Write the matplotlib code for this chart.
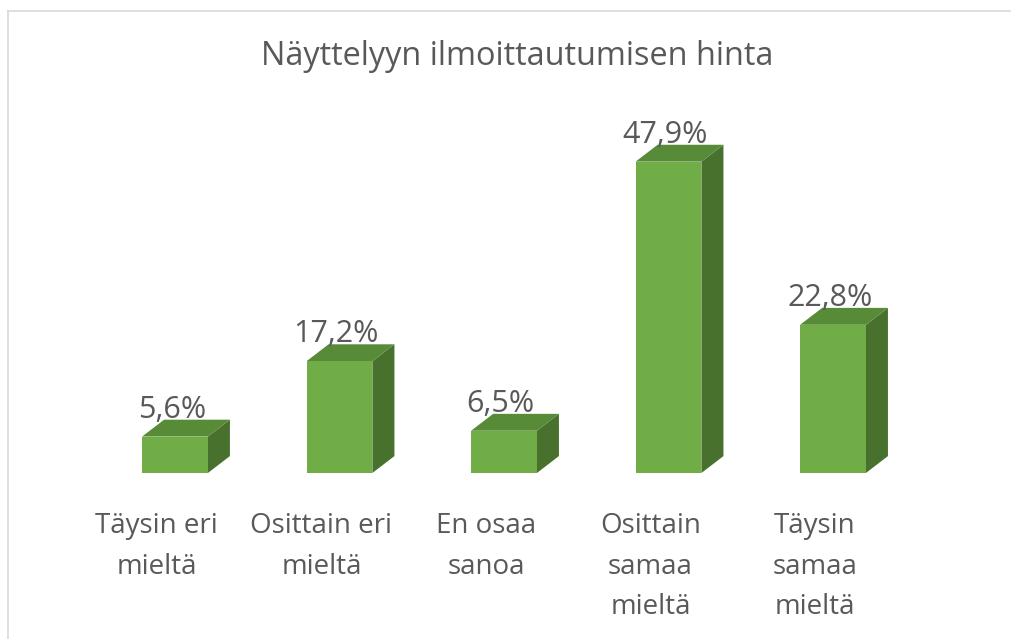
import matplotlib.pyplot as plt
from matplotlib.patches import Polygon
from matplotlib.lines import Line2D

categories = ["Täysin eri\nmieltä", "Osittain eri\nmieltä", "En osaa\nsanoa",
              "Osittain\nsamaa\nmieltä", "Täysin\nsamaa\nmieltä"]
values = [5.6, 17.2, 6.5, 47.9, 22.8]
value_labels = ["5,6%", "17,2%", "6,5%", "47,9%", "22,8%"]

front_col = "#70ad47"
top_col = "#578b37"
side_col = "#47712c"
text_col = "#595959"

plt.rcParams['font.family'] = ['Open Sans', 'DejaVu Sans']

fig = plt.figure(figsize=(10.11, 6.39), dpi=100)
ax = fig.add_axes([0.0917, 0.2598, 0.8136, 0.6103])
ax.set_xlim(-0.5, 4.5)
ax.set_ylim(0, 60)
ax.axis("off")

hw = 0.2    # half width of the front face
dx = 0.134  # depth in x
dy = 2.6    # depth in y

for i, v in enumerate(values):
    x0, x1 = i - hw, i + hw
    front = Polygon([(x0, 0), (x1, 0), (x1, v), (x0, v)], closed=True,
                    facecolor=front_col, edgecolor="none", clip_on=False)
    top = Polygon([(x0, v), (x1, v), (x1 + dx, v + dy), (x0 + dx, v + dy)], closed=True,
                  facecolor=top_col, edgecolor="none", clip_on=False)
    side = Polygon([(x1, 0), (x1 + dx, dy), (x1 + dx, v + dy), (x1, v)], closed=True,
                   facecolor=side_col, edgecolor="none", clip_on=False)
    for p in (side, top, front):
        ax.add_patch(p)
    ax.text(i - 0.02, v + dy + 0.3, value_labels[i], ha="center", va="baseline",
            fontsize=22, color=text_col)
    ax.text(i - 0.11, -6.0, categories[i], ha="center", va="top", multialignment="center",
            fontsize=20, color=text_col, linespacing=1.6)

fig.text(0.512, 0.912, "Näyttelyyn ilmoittautumisen hinta", ha="center", va="center",
         fontsize=23.4, color=text_col)

# chart area border (only top and left edges visible)
fig.add_artist(Line2D([8 / 1011, 1.0], [1 - 10.5 / 639, 1 - 10.5 / 639],
                      transform=fig.transFigure, color="#d9d9d9", lw=1.2))
fig.add_artist(Line2D([8 / 1011, 8 / 1011], [0.0, 1 - 10.5 / 639],
                      transform=fig.transFigure, color="#d9d9d9", lw=1.2))

fig.savefig("out.png", dpi=100, facecolor="white")
